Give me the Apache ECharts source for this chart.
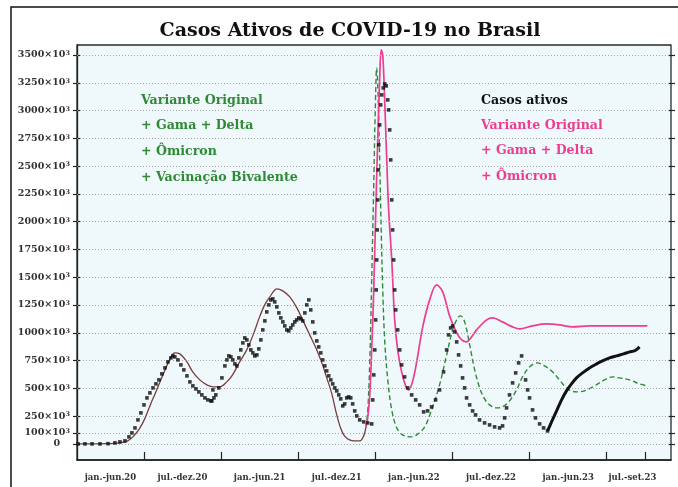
<!DOCTYPE html>
<html>
<head>
<meta charset="utf-8">
<script src="https://cdn.jsdelivr.net/npm/echarts@6/dist/echarts.min.js"></script>
<style>
  html, body { margin: 0; padding: 0; background: #ffffff; }
  #chart { width: 678px; height: 487px; }
</style>
</head>
<body>
<div id="chart"></div>
<script>
// x: months since jan/2020, y: active cases in thousands (×10³)

const semestres = ['jan.-jun.20', 'jul.-dez.20', 'jan.-jun.21', 'jul.-dez.21', 'jan.-jun.22', 'jul.-dez.22', 'jan.-jun.23', 'jul.-set.23'];
const semestrePos = [3.4, 9, 15, 21, 27, 33, 39, 44];
const semestreLimites = [6, 12, 18, 24, 30, 36, 42, 45];
const yTicks = [0, 100, 250, 500, 750, 1000, 1250, 1500, 1750, 2000, 2250, 2500, 2750, 3000, 3250, 3500];

// both models coincide until the end of 2021
const modeloComum = [
  [0.8, 0], [1.8, 0], [3.0, 2], [4.1, 10], [4.7, 25], [5.15, 63], [5.7, 144], [6.1, 234], [6.5, 351],
  [6.9, 459], [7.25, 558], [7.65, 666], [8.0, 756], [8.4, 819], [8.8, 810], [9.35, 738], [9.8, 648],
  [10.35, 576], [10.9, 531], [11.4, 513], [11.9, 513], [12.45, 558], [12.9, 621], [13.45, 738], [14.0, 846],
  [14.5, 981], [15.0, 1143], [15.4, 1251], [15.8, 1323], [16.35, 1395], [16.8, 1377], [17.35, 1323],
  [17.9, 1224], [18.35, 1116], [18.9, 981], [19.45, 846], [19.9, 711], [20.2, 603], [20.6, 459],
  [21.0, 261], [21.3, 144], [21.6, 72], [22.0, 36], [22.4, 27], [22.8, 27], [23.1, 72], [23.26, 144]
];

// Variante Original + Gama + Delta + Ômicron + Vacinação Bivalente
const modeloVacina = [
  [23.26, 144], [23.41, 288], [23.57, 738], [23.72, 1476], [23.88, 2331], [23.99, 2961], [24.11, 3384],
  [24.23, 3096], [24.34, 2556], [24.46, 1926], [24.58, 1386], [24.73, 936], [24.97, 576], [25.28, 306],
  [25.67, 144], [26.13, 81], [26.67, 63], [27.22, 81], [27.84, 153], [28.38, 306], [29.0, 531],
  [29.55, 801], [30.02, 1026], [30.41, 1134], [30.64, 1152], [30.95, 1098], [31.34, 891], [31.73, 666],
  [32.12, 504], [32.5, 405], [32.89, 351], [33.43, 324], [33.9, 333], [34.44, 387], [34.99, 486],
  [35.45, 603], [36.0, 693], [36.62, 729], [37.16, 702], [37.71, 657], [38.33, 576], [38.95, 495],
  [39.65, 468], [40.27, 477], [41.05, 522], [41.83, 576], [42.45, 603], [42.99, 594], [43.77, 576],
  [44.55, 540], [45.16, 522]
];

// Variante Original + Gama + Delta + Ômicron
const modeloOmicron = [
  [23.26, 144], [23.41, 234], [23.57, 441], [23.72, 846], [23.88, 1386], [24.03, 2061], [24.19, 2736],
  [24.34, 3276], [24.46, 3546], [24.58, 3501], [24.73, 3096], [24.89, 2556], [25.04, 2106], [25.28, 1656],
  [25.51, 1116], [25.74, 846], [26.05, 648], [26.36, 522], [26.6, 486], [26.91, 567], [27.22, 738],
  [27.69, 1053], [28.23, 1296], [28.77, 1431], [29.24, 1368], [29.78, 1152], [30.33, 999], [30.72, 936],
  [31.1, 918], [31.49, 963], [31.88, 1026], [32.66, 1116], [33.12, 1134], [33.9, 1098], [34.68, 1053],
  [35.22, 1035], [36.23, 1062], [37.32, 1080], [38.33, 1071], [39.34, 1053], [40.66, 1062], [42.76, 1062],
  [45.16, 1062]
];

// Casos ativos (daily records)
const casosAtivos = [
  [0.88, 0], [1.42, 0], [1.97, 0], [2.59, 0], [3.21, 2], [3.75, 9], [4.14, 18], [4.53, 27], [4.84, 63],
  [5.07, 99], [5.31, 144], [5.54, 216], [5.77, 279], [6.01, 351], [6.24, 414], [6.47, 459], [6.71, 504],
  [6.94, 540], [7.17, 576], [7.4, 630], [7.64, 684], [7.87, 738], [8.1, 774], [8.26, 792], [8.41, 783],
  [8.65, 756], [8.88, 711], [9.11, 666], [9.35, 612], [9.58, 558], [9.81, 522], [10.05, 495], [10.28, 468],
  [10.51, 441], [10.75, 414], [10.98, 396], [11.21, 387], [11.29, 387], [11.37, 486], [11.45, 414],
  [11.6, 441], [11.83, 504], [12.07, 594], [12.3, 702], [12.46, 756], [12.61, 792], [12.77, 783],
  [12.92, 756], [13.08, 720], [13.23, 702], [13.39, 774], [13.54, 846], [13.7, 909], [13.85, 954],
  [14.01, 936], [14.16, 891], [14.32, 846], [14.48, 819], [14.63, 792], [14.79, 801], [14.94, 855],
  [15.1, 936], [15.25, 1026], [15.41, 1107], [15.56, 1188], [15.72, 1251], [15.87, 1296], [16.03, 1305],
  [16.18, 1278], [16.34, 1233], [16.5, 1179], [16.65, 1134], [16.81, 1098], [16.96, 1062], [17.12, 1026],
  [17.27, 1017], [17.43, 1044], [17.58, 1071], [17.74, 1098], [17.89, 1116], [18.05, 1134], [18.21, 1125],
  [18.36, 1107], [18.52, 1179], [18.67, 1251], [18.83, 1296], [18.98, 1206], [19.14, 1098], [19.29, 999],
  [19.45, 927], [19.6, 873], [19.76, 819], [19.91, 756], [20.07, 702], [20.22, 657], [20.38, 612],
  [20.54, 576], [20.69, 540], [20.85, 504], [21.0, 477], [21.16, 441], [21.31, 405], [21.47, 342],
  [21.62, 360], [21.78, 414], [21.93, 423], [22.09, 414], [22.24, 360], [22.4, 297], [22.56, 252],
  [22.79, 216], [23.1, 198], [23.41, 189], [23.72, 180],
  [23.8, 396], [23.88, 621], [23.96, 846], [24.03, 1116], [24.07, 1386], [24.11, 1656], [24.15, 1926],
  [24.19, 2196], [24.23, 2466], [24.27, 2691], [24.34, 2871], [24.42, 3051], [24.5, 3141], [24.62, 3204],
  [24.73, 3240], [24.85, 3222], [24.97, 3096], [25.04, 3006], [25.12, 2826], [25.2, 2556], [25.28, 2196],
  [25.35, 1926], [25.43, 1656], [25.51, 1386], [25.59, 1206], [25.74, 1026], [25.9, 846], [26.05, 711],
  [26.28, 603], [26.52, 504], [26.83, 441], [27.14, 396], [27.45, 351], [27.76, 288], [28.07, 297],
  [28.38, 333], [28.69, 396], [29.0, 486], [29.31, 648], [29.55, 846], [29.7, 981], [29.86, 1044],
  [30.02, 1062], [30.17, 1008], [30.33, 918], [30.48, 801], [30.64, 702], [30.79, 594], [30.95, 504],
  [31.1, 414], [31.34, 351], [31.57, 297], [31.8, 261], [32.11, 216], [32.5, 189], [32.89, 171],
  [33.28, 153], [33.67, 144], [33.9, 162], [34.06, 234], [34.21, 324], [34.44, 441], [34.68, 549],
  [34.92, 639], [35.15, 729], [35.38, 792], [35.69, 576], [35.85, 486], [36.0, 414], [36.23, 306],
  [36.46, 234], [36.78, 180], [37.09, 144], [37.4, 117]
];

// most recent records, dense enough to read as a continuous line
const casosAtivosRecentes = [
  [37.4, 117], [37.71, 198], [38.1, 297], [38.49, 396], [38.87, 477], [39.26, 540], [39.65, 594],
  [40.12, 639], [40.66, 684], [41.21, 720], [41.67, 747], [42.22, 774], [42.76, 792], [43.31, 810],
  [43.78, 828], [44.16, 837], [44.39, 855], [44.55, 873]
];

const SERIF = '"DejaVu Serif", "Liberation Serif", serif';
const VERDE = '#2f8a35';
const MAGENTA = '#ee3d91';
const MARROM = '#7a3d3d';

const chart = echarts.init(document.getElementById('chart'), null, { renderer: 'canvas' });

const textoFixo = (txt, x, y, color, size) => ({
  type: 'text', x: x, y: y, silent: true,
  style: { text: txt, fill: color, font: 'bold ' + size + 'px ' + SERIF, textVerticalAlign: 'middle' }
});

const eixoY = (pos, inside, comRotulo) => ({
  type: 'value', position: pos, min: -145, max: 3590,
  axisLine: { show: comRotulo, onZero: false, lineStyle: { color: '#222', width: 1.3 } },
  axisTick: { show: true, inside: inside, length: inside ? 3 : 4, customValues: yTicks, lineStyle: { color: '#222', width: 1.2 } },
  axisLabel: comRotulo ? {
    show: true, customValues: yTicks, margin: 7, hideOverlap: false,
    formatter: v => (v === 0 ? '{z|0}' : '{n|' + v + '×10}{s|3}'),
    rich: {
      n: { fontFamily: SERIF, fontWeight: 'bold', fontSize: 9.5, color: '#333', lineHeight: 10, verticalAlign: 'bottom' },
      s: { fontFamily: SERIF, fontWeight: 'bold', fontSize: 6.5, color: '#333', lineHeight: 6, verticalAlign: 'top' },
      z: { fontFamily: SERIF, fontWeight: 'bold', fontSize: 9.5, color: '#333', lineHeight: 10, padding: [0, 10, 0, 0] }
    }
  } : { show: false },
  splitLine: { show: false }
});

chart.setOption({
  animation: false,
  backgroundColor: '#ffffff',
  grid: {
    left: 77, right: 7, top: 45, bottom: 27,
    show: true, backgroundColor: '#eff9fb', borderColor: '#2a2a2a', borderWidth: 1.3
  },
  xAxis: {
    type: 'value', min: 0.8, max: 47, position: 'bottom',
    axisLine: { show: true, onZero: false, lineStyle: { color: '#222', width: 1.5 } },
    axisTick: { show: true, inside: true, length: 8, customValues: semestreLimites, lineStyle: { color: '#222', width: 1.2 } },
    axisLabel: {
      show: true, customValues: semestrePos, margin: 13,
      formatter: v => semestres[semestrePos.indexOf(v)] || '',
      fontFamily: SERIF, fontWeight: 'bold', fontSize: 8.5, color: '#333'
    },
    splitLine: { show: false }
  },
  yAxis: [eixoY('left', false, true), eixoY('left', true, false), eixoY('right', false, false), eixoY('right', true, false)],
  series: [
    {
      type: 'line', data: [], silent: true,
      markLine: {
        silent: true, symbol: 'none', label: { show: false },
        lineStyle: { color: '#a8a8a8', type: [1, 2], width: 1 },
        data: yTicks.map(v => ({ yAxis: v }))
      }
    },
    {
      name: 'Variante Original', type: 'line', data: modeloComum, smooth: 0.35, showSymbol: false,
      lineStyle: { color: MARROM, width: 1.3 }, z: 3
    },
    {
      name: 'Vacinação Bivalente', type: 'line', data: modeloVacina, smooth: 0.35, showSymbol: false,
      lineStyle: { color: VERDE, width: 1.4, type: [5, 3] }, z: 3
    },
    {
      name: 'Ômicron', type: 'line', data: modeloOmicron, smooth: 0.35, showSymbol: false,
      lineStyle: { color: MAGENTA, width: 1.7 }, z: 4
    },
    {
      name: 'Casos ativos', type: 'scatter', data: casosAtivos, symbol: 'rect', symbolSize: 3.6,
      itemStyle: { color: '#0d0d0d' }, z: 5
    },
    {
      name: 'Casos ativos recentes', type: 'line', data: casosAtivosRecentes, smooth: 0.3, showSymbol: false,
      lineStyle: { color: '#111', width: 3 }, z: 5
    }
  ],
  graphic: [
    { type: 'rect', silent: true, shape: { x: 11, y: 7, width: 720, height: 520 }, style: { fill: 'none', stroke: '#111', lineWidth: 1.5 } },
    {
      type: 'text', x: 350, y: 31, silent: true,
      style: { text: 'Casos Ativos de COVID-19 no Brasil', fill: '#111', font: 'bold 19px ' + SERIF, textAlign: 'center', textVerticalAlign: 'middle' }
    },
    textoFixo('Variante Original', 141, 101, VERDE, 12.6),
    textoFixo('+ Gama + Delta', 141, 126, VERDE, 12.6),
    textoFixo('+ Ômicron', 141, 152, VERDE, 12.6),
    textoFixo('+ Vacinação Bivalente', 141, 178, VERDE, 12.6),
    textoFixo('Casos ativos', 481, 101, '#111', 12.6),
    textoFixo('Variante Original', 481, 126, MAGENTA, 12.6),
    textoFixo('+ Gama + Delta', 481, 151, MAGENTA, 12.6),
    textoFixo('+ Ômicron', 481, 177, MAGENTA, 12.6)
  ]
});
</script>
</body>
</html>
